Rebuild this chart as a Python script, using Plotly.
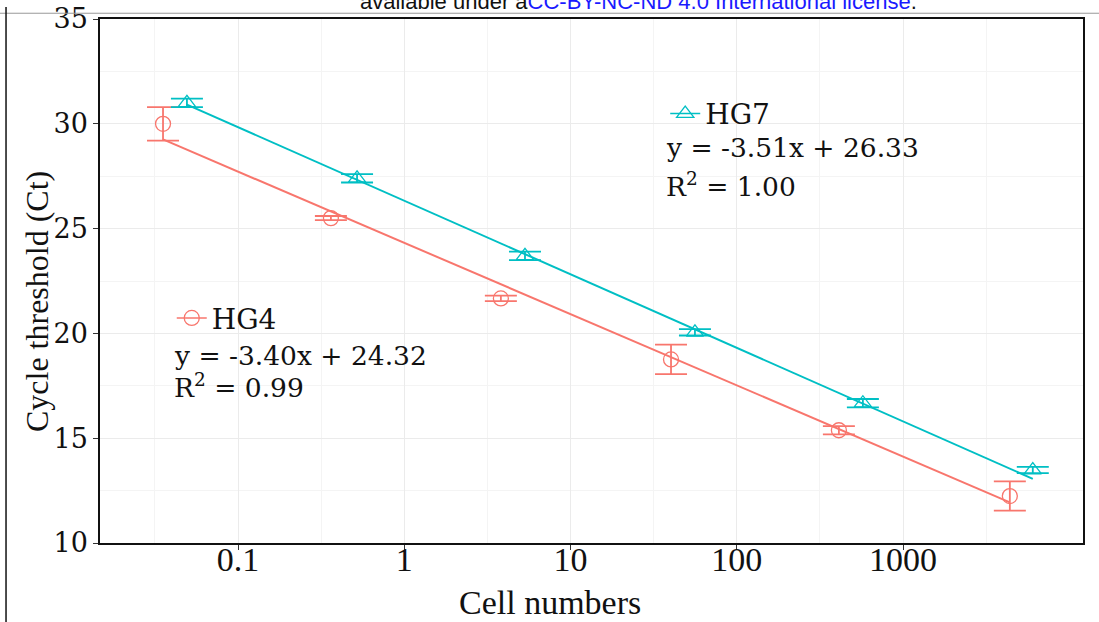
import numpy as np
import plotly.graph_objects as go

# ---- data ----
series_names = ["HG4", "HG7"]
hg4_cells = [0.0354, 0.362, 3.81, 40.2, 411, 4385]
hg4_ct = [30.0, 25.5, 21.67, 18.76, 15.38, 12.24]
hg4_err = [0.8, 0.1, 0.13, 0.7, 0.2, 0.7]
hg7_cells = [0.0493, 0.520, 5.32, 56.0, 573, 6026]
hg7_ct = [31.0, 27.4, 23.7, 20.05, 16.67, 13.48]
hg7_err = [0.2, 0.2, 0.2, 0.15, 0.2, 0.15]
slopes = [-3.40, -3.51]
intercepts = [24.32, 26.33]
r_squared = [0.99, 1.00]
x_tick_vals = [0.1, 1, 10, 100, 1000]
x_tick_text = ["0.1", "1", "10", "100", "1000"]
y_tick_vals = [10, 15, 20, 25, 30, 35]
x_title = "Cell numbers"
y_title = "Cycle threshold (Ct)"

colors = ["#F8766D", "#00BFC4"]
symbols = ["circle-open", "triangle-up-open"]
legends = ["legend", "legend2"]

fig = go.Figure()
all_x = [hg4_cells, hg7_cells]
all_y = [hg4_ct, hg7_ct]
all_e = [hg4_err, hg7_err]

for i, name in enumerate(series_names):
    xs = np.array(all_x[i])
    fx = np.array([xs.min(), xs.max()])
    fy = slopes[i] * np.log10(fx) + intercepts[i]
    fig.add_trace(go.Scatter(x=fx, y=fy, mode="lines",
                             line=dict(color=colors[i], width=2),
                             showlegend=False, hoverinfo="skip"))
    fig.add_trace(go.Scatter(x=all_x[i], y=all_y[i], mode="markers",
                             marker=dict(symbol=symbols[i], size=15, color=colors[i],
                                         line=dict(width=1.3, color=colors[i])),
                             error_y=dict(type="data", array=all_e[i], color=colors[i],
                                          thickness=1.8, width=16),
                             showlegend=False, name=name))
    fig.add_trace(go.Scatter(x=[None], y=[None], mode="lines+markers", name=name,
                             marker=dict(symbol=symbols[i], size=15, color=colors[i],
                                         line=dict(width=1.3, color=colors[i])),
                             line=dict(color=colors[i], width=1.5),
                             legend=legends[i], showlegend=True))

# equations
eq_pos = [(0.0733, 0.358, 0.2995), (0.574, 0.754, 0.683)]
for i in range(2):
    x0, y1, y2 = eq_pos[i]
    sign = "+" if intercepts[i] >= 0 else "-"
    fig.add_annotation(xref="paper", yref="paper", x=x0, y=y1, xanchor="left", yanchor="middle",
                       text=f"y = {slopes[i]:.2f}x {sign} {abs(intercepts[i]):.2f}", showarrow=False,
                       font=dict(family="DejaVu Serif", size=26.5, color="#111"))
    fig.add_annotation(xref="paper", yref="paper", x=x0, y=y2, xanchor="left", yanchor="middle",
                       text=f"R<sup>2</sup> = {r_squared[i]:.2f}", showarrow=False,
                       font=dict(family="DejaVu Serif", size=26.5, color="#111"))

# axis titles (placed as in the reference, not centred on the panel)
fig.add_annotation(xref="paper", yref="paper", x=0.4578, y=-0.1145, xanchor="center", yanchor="middle",
                   text=x_title, showarrow=False,
                   font=dict(family="Liberation Serif", size=34, color="#111"))
fig.add_annotation(xref="paper", yref="paper", x=-0.064, y=0.46, xanchor="center", yanchor="middle",
                   text=y_title, textangle=-90, showarrow=False,
                   font=dict(family="Liberation Serif", size=32, color="#111"))

# clipped page header text
fig.add_annotation(xref="paper", yref="paper", x=0.548, y=1.034, xanchor="center", yanchor="middle",
                   text='available under a<span style="color:#1a1aff">CC-BY-NC-ND 4.0 International license</span>.',
                   showarrow=False, font=dict(family="Liberation Sans", size=22, color="#111"))

# page frame lines
fig.add_shape(type="line", xref="paper", yref="paper", x0=-0.11, x1=1.02, y0=1.011, y1=1.011,
              line=dict(color="#999", width=1))
fig.add_shape(type="line", xref="paper", yref="paper", x0=-0.0956, x1=-0.0956, y0=1.023, y1=-0.16,
              line=dict(color="#111", width=1.5))

minor_x = [10 ** v for v in [-1.5, -0.5, 0.5, 1.5, 2.5, 3.5]]
minor_y = [12.5, 17.5, 22.5, 27.5, 32.5]

fig.update_layout(
    width=1099, height=622,
    margin=dict(l=100, r=16, t=19, b=79),
    paper_bgcolor="white", plot_bgcolor="white",
    xaxis=dict(type="log", range=[-1.830, 4.082], automargin=False,
               tickvals=x_tick_vals, ticktext=x_tick_text,
               ticks="outside", ticklen=5, tickcolor="#333", tickwidth=1,
               ticklabelstandoff=-20,
               showgrid=True, gridcolor="#EBEBEB", gridwidth=1.2,
               showline=True, linecolor="#111", linewidth=1.5, mirror=True,
               zeroline=False,
               minor=dict(tickvals=minor_x, showgrid=True, gridcolor="#F4F4F4", gridwidth=0.8, ticks=""),
               tickfont=dict(family="Liberation Serif", size=34, color="#111")),
    yaxis=dict(range=[10, 35], tickvals=y_tick_vals, automargin=False,
               ticks="outside", ticklen=5, tickcolor="#333", tickwidth=1,
               showgrid=True, gridcolor="#EBEBEB", gridwidth=1.2,
               showline=True, linecolor="#111", linewidth=1.5, mirror=True,
               zeroline=False,
               minor=dict(tickvals=minor_y, showgrid=True, gridcolor="#F4F4F4", gridwidth=0.8, ticks=""),
               tickfont=dict(family="DejaVu Serif", size=27, color="#111")),
    legend=dict(x=0.073, y=0.429, xanchor="left", yanchor="middle", bgcolor="rgba(0,0,0,0)",
                font=dict(family="DejaVu Serif", size=28, color="#111"), itemwidth=30),
    legend2=dict(x=0.575, y=0.819, xanchor="left", yanchor="middle", bgcolor="rgba(0,0,0,0)",
                 font=dict(family="DejaVu Serif", size=28, color="#111"), itemwidth=30),
)

fig.write_html("out.html", config={"displayModeBar": False},
               post_script="document.body.style.margin='0';document.body.style.overflow='hidden';")
